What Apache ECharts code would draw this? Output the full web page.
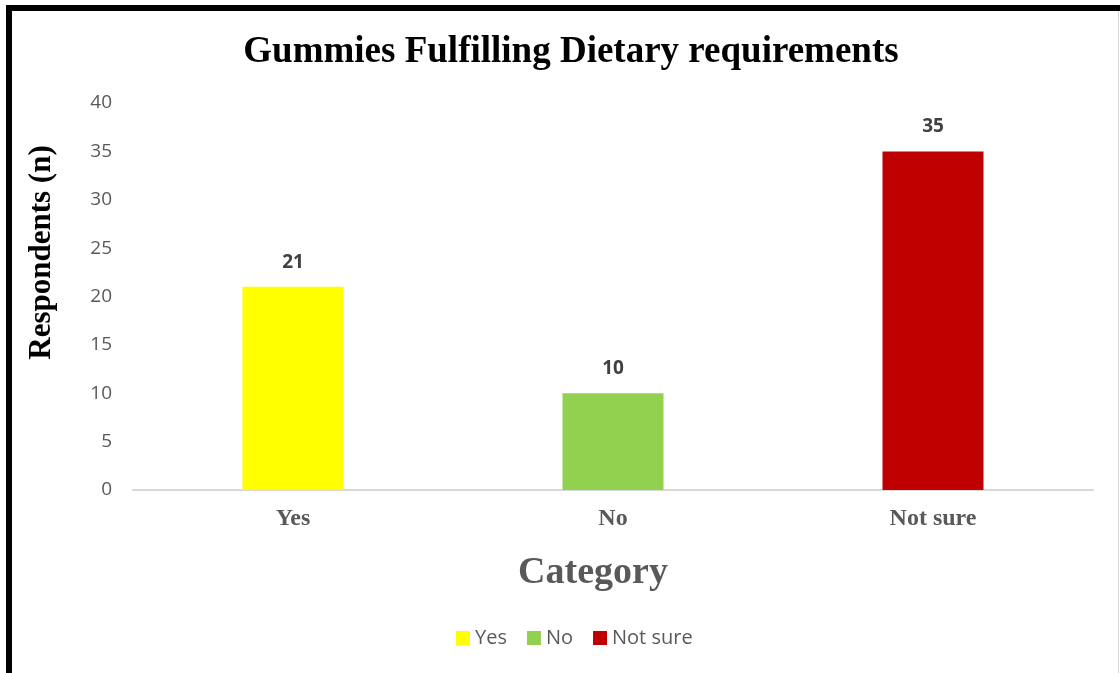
<!DOCTYPE html>
<html>
<head>
<meta charset="utf-8">
<script src="https://cdn.jsdelivr.net/npm/echarts@6/dist/echarts.min.js"></script>
<style>
html,body{margin:0;padding:0;background:#fff;}
#wrap{position:relative;width:1120px;height:673px;overflow:hidden;}
#chart{position:absolute;left:0;top:0;width:1120px;height:673px;}
.b{position:absolute;pointer-events:none;}
</style>
</head>
<body>
<div id="wrap">
<div id="chart"></div>
<div class="b" style="left:6px;top:5px;width:6px;height:668px;background:#000;"></div>
<div class="b" style="left:6px;top:5px;width:1114px;height:6px;background:#000;"></div>
<div class="b" style="left:1118px;top:11px;width:1px;height:662px;background:#d9d9d9;"></div>
</div>
<script>
const categories = ["Yes", "No", "Not sure"];
const seriesNames = ["Yes", "No", "Not sure"];
const values = [21, 10, 35];
const colors = ["#FFFF00", "#92D050", "#C00000"];
const yTicks = [0, 5, 10, 15, 20, 25, 30, 35, 40];

const chart = echarts.init(document.getElementById('chart'), null, {renderer: 'canvas'});
const series = seriesNames.map((name, i) => ({
  name: name,
  type: 'bar',
  stack: 'all',
  barWidth: 101,
  data: categories.map((c, j) => j === i ? values[i] : '-'),
  itemStyle: {color: colors[i]},
  label: {
    show: true, position: 'top', distance: 15,
    fontFamily: 'Open Sans', fontWeight: 'bold', fontSize: 19, color: '#404040'
  }
}));
chart.setOption({
  animation: false,
  backgroundColor: '#fff',
  title: {
    text: 'Gummies Fulfilling Dietary requirements',
    left: 566, top: 29, textAlign: 'center',
    textStyle: {fontFamily: 'Liberation Serif', fontWeight: 'bold', fontSize: 37, color: '#000'}
  },
  legend: {
    data: seriesNames,
    bottom: 20, left: 451,
    itemWidth: 14, itemHeight: 14, itemGap: 20,
    icon: 'rect',
    textStyle: {fontFamily: 'Open Sans', fontSize: 20, color: '#595959'}
  },
  grid: {left: 133, right: 27, top: 103, bottom: 183, containLabel: false},
  xAxis: {
    type: 'category', data: categories,
    axisLine: {lineStyle: {color: '#d9d9d9', width: 2}},
    axisTick: {show: false},
    axisLabel: {fontFamily: 'Liberation Serif', fontWeight: 'bold', fontSize: 24, color: '#595959', margin: 17},
    name: 'Category', nameLocation: 'middle', nameGap: 64,
    nameTextStyle: {fontFamily: 'Liberation Serif', fontWeight: 'bold', fontSize: 38, color: '#595959', padding: [0, 40, 0, 0]}
  },
  yAxis: {
    type: 'value', min: yTicks[0], max: yTicks[yTicks.length - 1], interval: 5,
    axisLine: {show: false}, axisTick: {show: false},
    splitLine: {show: false},
    axisLabel: {fontFamily: 'Open Sans', fontSize: 19, color: '#595959', margin: 21},
    name: 'Respondents (n)', nameLocation: 'middle', nameGap: 76,
    nameTextStyle: {fontFamily: 'Liberation Serif', fontWeight: 'bold', fontSize: 31, color: '#000', padding: [0, 0, 0, 88]}
  },
  series: series
});
</script>
</body>
</html>
